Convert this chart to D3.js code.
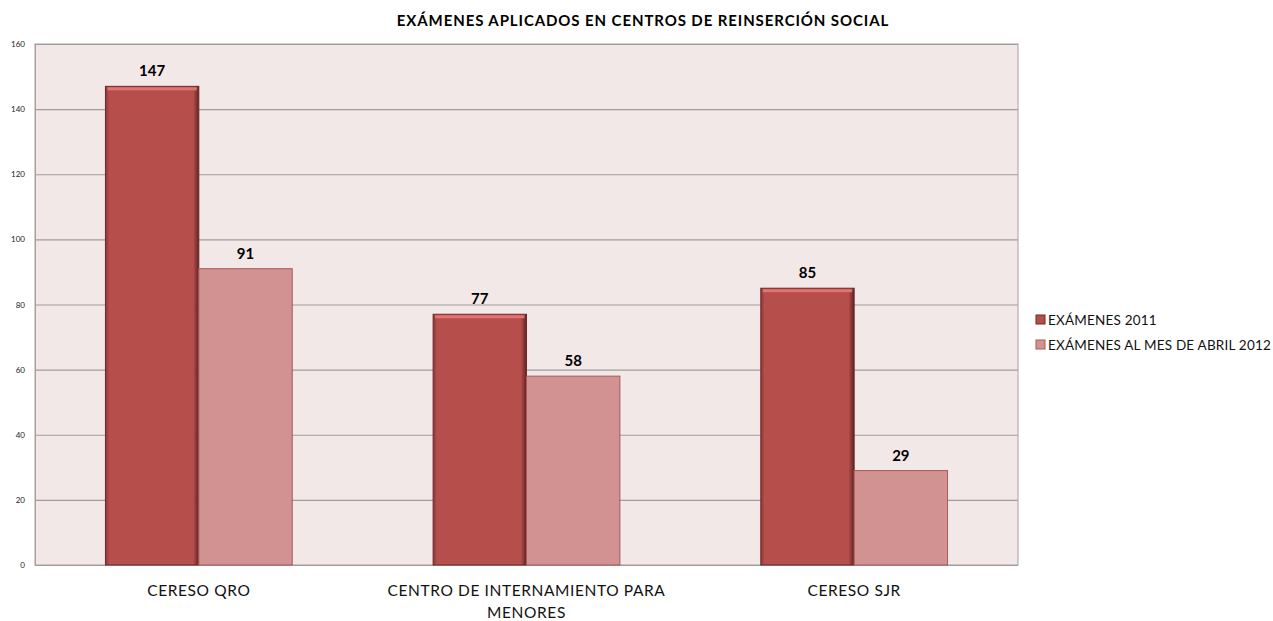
<!DOCTYPE html>
<html>
<head>
<meta charset="utf-8">
<script src="https://cdn.jsdelivr.net/npm/d3@7"></script>
<style>
  body { margin: 0; background: #fff; }
  text { font-family: Lato, "Open Sans", sans-serif; }
</style>
</head>
<body>
<svg width="1273" height="621"></svg>
<script>
const categories = ['CERESO QRO', 'CENTRO DE INTERNAMIENTO PARA MENORES', 'CERESO SJR']
const categoryLines = [['CERESO QRO'], ['CENTRO DE INTERNAMIENTO PARA', 'MENORES'], ['CERESO SJR']]
const seriesNames = ['EXÁMENES 2011', 'EXÁMENES AL MES DE ABRIL 2012']
const examenes2011 = [147, 77, 85]
const examenesAbril2012 = [91, 58, 29]
const yTicks = [0, 20, 40, 60, 80, 100, 120, 140, 160]

const darkRed = '#b64e4c',
  pink = '#d29291'

const svg = d3.select('svg')

let xPixelMin = 35
let xPixelMax = 1018
let yPixelMin = 44
let yPixelMax = 565

// Gradient for the bevel look of the first series
const defs = svg.append('defs')
const bevel = defs.append('linearGradient').attr('id', 'bevelH')
bevel.append('stop').attr('offset', '0%').attr('stop-color', '#8a3634')
bevel.append('stop').attr('offset', '4%').attr('stop-color', darkRed)
bevel.append('stop').attr('offset', '94%').attr('stop-color', darkRed)
bevel.append('stop').attr('offset', '100%').attr('stop-color', '#5e2322')

let xScale = d3.scaleBand().domain(categories).range([xPixelMin, xPixelMax]).paddingInner(0.43).paddingOuter(0.215)
let yScale = d3.scaleLinear().domain([0, 160]).range([yPixelMax, yPixelMin])

// Plot background
svg.append('rect')
  .attr('x', xPixelMin)
  .attr('y', yPixelMin)
  .attr('width', xPixelMax - xPixelMin)
  .attr('height', yPixelMax - yPixelMin)
  .attr('fill', '#f2e8e8')
  .attr('stroke', '#a6a0a0')

// Grid lines + y axis
let yAxis = d3.axisLeft(yScale).tickValues(yTicks).tickSize(-(xPixelMax - xPixelMin)).tickPadding(10)
const yAxisG = svg.append('g')
  .attr('id', 'yAxisG')
  .attr('transform', `translate(${xPixelMin}, 0)`)
  .call(yAxis)
yAxisG.select('.domain').attr('stroke', '#a6a0a0')
yAxisG.selectAll('line').attr('stroke', '#a09c9c').attr('stroke-width', 1.2)
yAxisG.selectAll('text').attr('font-size', 8).attr('fill', '#222').attr('font-family', 'Lato, sans-serif')

let innerScale = d3.scaleBand().domain([0, 1]).range([0, xScale.bandwidth()])

const groups = categories.map((c, i) => ({ c: c, i: i }))

// Series 1 bars (bevel)
const s1 = svg.selectAll('g.s1').data(groups).enter().append('g').attr('class', 's1')
s1.append('rect')
  .attr('x', (d) => xScale(d.c) + innerScale(0))
  .attr('y', (d) => yScale(examenes2011[d.i]))
  .attr('width', innerScale.bandwidth())
  .attr('height', (d) => yScale(0) - yScale(examenes2011[d.i]))
  .attr('fill', 'url(#bevelH)')
  .attr('stroke', '#6e2a29')
  .attr('stroke-width', 1)
s1.append('rect')
  .attr('x', (d) => xScale(d.c) + innerScale(0) + 2)
  .attr('y', (d) => yScale(examenes2011[d.i]) + 1)
  .attr('width', innerScale.bandwidth() - 4)
  .attr('height', 3)
  .attr('fill', '#e27371')

// Series 2 bars
svg.selectAll('rect.s2').data(groups).enter().append('rect')
  .attr('class', 's2')
  .attr('x', (d) => xScale(d.c) + innerScale(1))
  .attr('y', (d) => yScale(examenesAbril2012[d.i]))
  .attr('width', innerScale.bandwidth())
  .attr('height', (d) => yScale(0) - yScale(examenesAbril2012[d.i]))
  .attr('fill', pink)
  .attr('stroke', '#a85a59')
  .attr('stroke-width', 1)

// Value labels
svg.selectAll('text.v1').data(groups).enter().append('text')
  .attr('x', (d) => xScale(d.c) + innerScale(0) + innerScale.bandwidth() / 2)
  .attr('y', (d) => yScale(examenes2011[d.i]) - 10)
  .attr('text-anchor', 'middle')
  .attr('font-size', 15).attr('font-weight', 'bold')
  .text((d) => examenes2011[d.i])
svg.selectAll('text.v2').data(groups).enter().append('text')
  .attr('x', (d) => xScale(d.c) + innerScale(1) + innerScale.bandwidth() / 2)
  .attr('y', (d) => yScale(examenesAbril2012[d.i]) - 10)
  .attr('text-anchor', 'middle')
  .attr('font-size', 15).attr('font-weight', 'bold')
  .text((d) => examenesAbril2012[d.i])

// Category labels
svg.selectAll('text.cat').data(groups).enter().append('text')
  .attr('class', 'cat')
  .attr('x', (d) => xScale(d.c) + xScale.bandwidth() / 2)
  .attr('y', 596)
  .attr('text-anchor', 'middle')
  .attr('font-size', 15.5)
  .attr('letter-spacing', 0.6)
  .attr('fill', '#111')
  .each(function (d) {
    categoryLines[d.i].forEach((line, k) => {
      d3.select(this).append('tspan')
        .attr('x', xScale(d.c) + xScale.bandwidth() / 2)
        .attr('dy', k === 0 ? 0 : 22)
        .text(line)
    })
  })

// Title
svg.append('text')
  .attr('x', 643)
  .attr('y', 26)
  .attr('text-anchor', 'middle')
  .attr('font-size', 15)
  .attr('letter-spacing', 0.9)
  .attr('font-weight', 'bold')
  .text('EXÁMENES APLICADOS EN CENTROS DE REINSERCIÓN SOCIAL')

// Legend
const legend = svg.selectAll('g.legend').data(seriesNames).enter().append('g')
  .attr('class', 'legend')
  .attr('transform', (d, i) => `translate(1036, ${315 + i * 25})`)
legend.append('rect')
  .attr('width', 9).attr('height', 9)
  .attr('fill', (d, i) => (i === 0 ? 'url(#bevelH)' : pink))
  .attr('stroke', (d, i) => (i === 0 ? '#6e2a29' : '#a85a59'))
legend.append('text')
  .attr('x', 12).attr('y', 9.5)
  .attr('font-size', 13.5)
  .attr('letter-spacing', 0.2)
  .attr('fill', '#111')
  .text((d) => d)
</script>
</body>
</html>
